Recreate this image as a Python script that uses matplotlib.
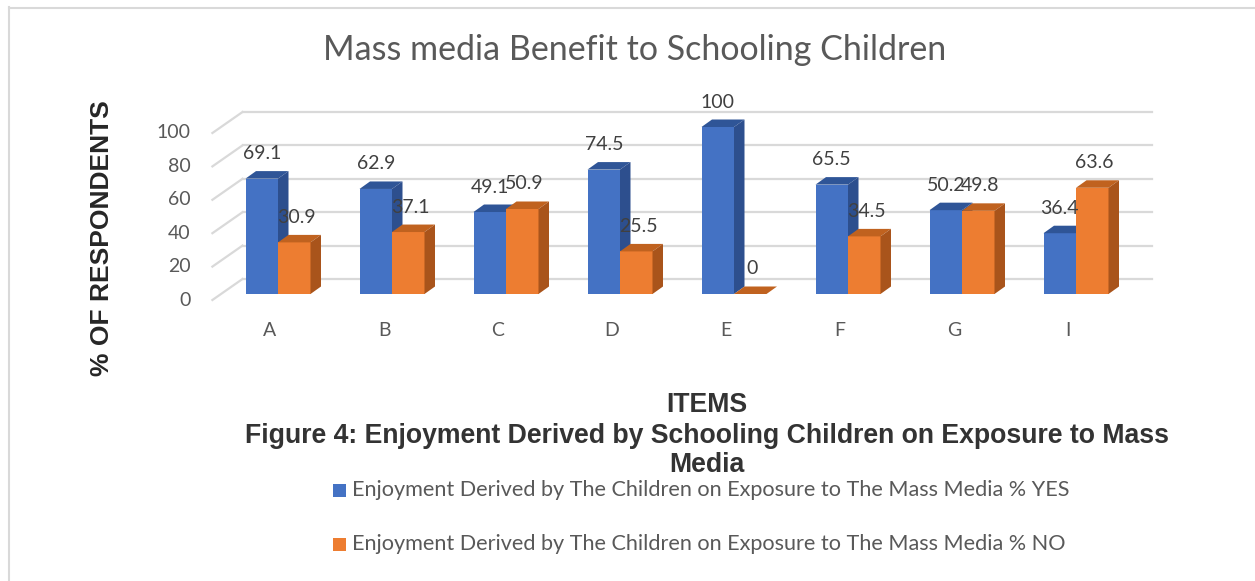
import numpy as np
import matplotlib
matplotlib.use('Agg')
import matplotlib.pyplot as plt
from matplotlib.patches import Polygon, Rectangle
from matplotlib.lines import Line2D
from matplotlib import font_manager

# data
items = ['A', 'B', 'C', 'D', 'E', 'F', 'G', 'I']
yes_pct = [69.1, 62.9, 49.1, 74.5, 100, 65.5, 50.2, 36.4]
no_pct = [30.9, 37.1, 50.9, 25.5, 0, 34.5, 49.8, 63.6]
y_ticks = [0, 20, 40, 60, 80, 100]

series_names = ['Enjoyment Derived by The Children on Exposure to The Mass Media % YES',
                'Enjoyment Derived by The Children on Exposure to The Mass Media % NO']

# colours: front, top, side
blue = ('#4472C4', '#2F5597', '#2D4F8E')
orange = ('#ED7D31', '#C0621F', '#A9541B')
grid_c = '#D9D9D9'

names = {f.name for f in font_manager.fontManager.ttflist}
body_font = 'Lato' if 'Lato' in names else 'DejaVu Sans'
bold_font = 'Liberation Sans'

W, H = 1255, 581
fig = plt.figure(figsize=(W / 100, H / 100), dpi=100)

# axes laid out so the front plane of the bars lines up with the reference
step = 114.0
ax_l = 278 - step / 2
ax = fig.add_axes([ax_l / W, (H - 294) / H, 8 * step / W, (294 - 127) / H])
ax.set_xlim(-0.5, 7.5)
ax.set_ylim(0, 100)
ax.axis('off')

sx = step                  # px per x unit
sy = (294 - 127) / 100.0   # px per y unit

bw = 32.5 / sx                     # width of one bar
ddx, ddy = 10.5 / sx, 7.5 / sy     # bar depth
wdx, wdy = 21.5 / sx, 15 / sy      # back wall offset from bar front
fdx, fdy = -8.6 / sx, -6 / sy      # front floor edge offset
x_left, x_right = -0.5, 7.48

# back wall gridlines + left side diagonals
for v in y_ticks:
    ax.plot([x_left + wdx, x_right + wdx], [v + wdy, v + wdy], color=grid_c,
            lw=1.6, clip_on=False, zorder=0)
    ax.plot([x_left + fdx, x_left + wdx], [v + fdy, v + wdy], color=grid_c,
            lw=1.6, clip_on=False, zorder=0)
    ax.text(x_left + fdx - 22 / sx, v + fdy, str(v), ha='right', va='center',
            fontsize=14, color='#595959', family=body_font, clip_on=False)


def bar3d(x0, v, cols, z):
    x1 = x0 + bw
    ax.add_patch(Polygon([(x0, 0), (x1, 0), (x1, v), (x0, v)], closed=True,
                         fc=cols[0], ec='none', zorder=z, clip_on=False))
    ax.add_patch(Polygon([(x0, v), (x1, v), (x1 + ddx, v + ddy), (x0 + ddx, v + ddy)],
                         closed=True, fc=cols[1], ec='none', zorder=z, clip_on=False))
    ax.add_patch(Polygon([(x1, 0), (x1 + ddx, ddy), (x1 + ddx, v + ddy), (x1, v)],
                         closed=True, fc=cols[2], ec='none', zorder=z, clip_on=False))


x = np.arange(len(items))
for i in x:
    bar3d(i - bw, yes_pct[i], blue, 2 + 2 * i)
    bar3d(i, no_pct[i], orange, 3 + 2 * i)

# data labels
for i in x:
    ax.text(i - bw / 2, yes_pct[i] + 25 / sy, f'{yes_pct[i]:g}', ha='center', va='center',
            fontsize=14, color='#404040', family=body_font, zorder=30, clip_on=False)
    ax.text(i + bw / 2 + 0.02, no_pct[i] + 25 / sy, f'{no_pct[i]:g}', ha='center', va='center',
            fontsize=14, color='#404040', family=body_font, zorder=30, clip_on=False)

# category labels
for i, name in zip(x, items):
    ax.text(i - 8 / sx, -36 / sy, name, ha='center', va='center', fontsize=14,
            color='#595959', family=body_font, clip_on=False)

# titles and axis names (figure pixel positions)
def ftext(px, py, s, **kw):
    fig.text(px / W, 1 - py / H, s, **kw)

ftext(635, 50, 'Mass media Benefit to Schooling Children', ha='center', va='center',
      fontsize=24.5, color='#595959', family=body_font)
ftext(102, 238, '% OF RESPONDENTS', ha='center', va='center', rotation=90,
      fontsize=19, fontweight='bold', color='#262626', family=bold_font)
bold_kw = dict(ha='center', va='center', fontsize=19.2, fontweight='bold',
               color='#333333', family=bold_font)
ftext(707, 405, 'ITEMS', **bold_kw)
ftext(707, 436, 'Figure 4: Enjoyment Derived by Schooling Children on Exposure to Mass',
      **bold_kw)
ftext(707, 465, 'Media', **bold_kw)

# legend
for py, name, col in zip([490, 544], series_names, [blue[0], orange[0]]):
    fig.add_artist(Rectangle((333 / W, 1 - (py + 6.5) / H), 13 / W, 13 / H,
                             fc=col, ec='none', transform=fig.transFigure))
    ftext(352, py, name, ha='left', va='center', fontsize=15.6, color='#595959',
          family=body_font)

# chart frame (left and top edges visible)
fig.add_artist(Line2D([8.5 / W, 8.5 / W], [0, 1 - 7 / H], color=grid_c, lw=1.5))
fig.add_artist(Line2D([8.5 / W, 1], [1 - 7.5 / H, 1 - 7.5 / H], color=grid_c, lw=1.5))

fig.savefig('out.png', dpi=100)
